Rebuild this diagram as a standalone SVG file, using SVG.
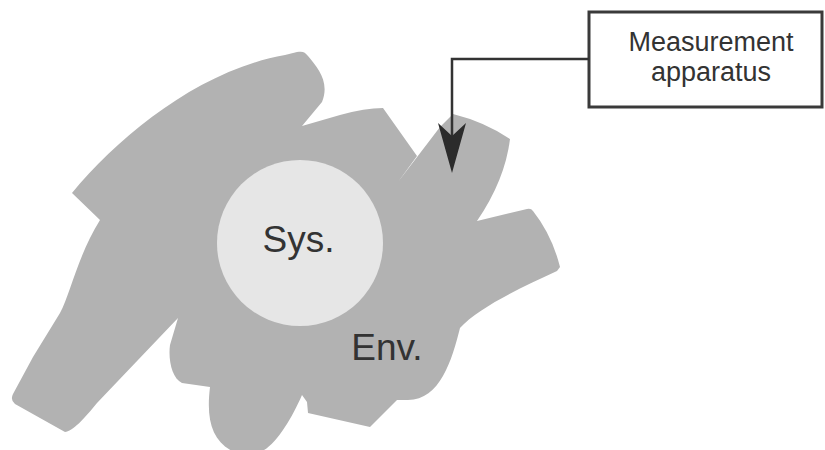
<svg xmlns="http://www.w3.org/2000/svg" width="825" height="450" viewBox="0 0 825 450">
<style>
.env{fill:#b2b2b2;}
.sys{fill:#e6e6e6;}
.lbl{font-family:"Liberation Sans",Arial,sans-serif;fill:#333333;text-anchor:middle;}
.box{fill:#ffffff;stroke:#3a3a3a;stroke-width:3;}
.conn{fill:none;stroke:#333333;stroke-width:2.5;}
</style>
<defs>
<marker id="dart" viewBox="0 0 50 30" refX="37" refY="15" markerWidth="50" markerHeight="30" markerUnits="userSpaceOnUse" orient="auto">
<path d="M0 1 L50 15 L0 29 L13 15 Z" fill="#2b2b2b"/>
</marker>
</defs>
<rect width="825" height="450" fill="#ffffff"/>
<g id="env">
<path class="env" d="M72 193 C120 135 200 70 285 55 L297 52 C303 51 305 52 308 56 C318 68 330 82 322 102 L302 126 L340 115 Q365 108 383 108 L417 156 L398 182 L440 127 L453 114 Q485 122 510 139 Q505 180 477 221 L527 209 Q531 208 533 211 Q552 235 560 267 L557 271 C520 288 478 308 460 328 C452 360 440 400 408 400 L397 400 L370 427 L308 413 L307 402 L302 395 C292 418 276 445 262 451 L232 451 C212 440 206 420 210 387 L182 383 C172 378 168 360 170 345 L178 318 L97 403 C85 418 72 432 65 432 L15 404 Q10 400 13 394 L33 357 L60 313 C70 295 78 255 100 220 Z"/>
<text class="lbl" x="387" y="360" font-size="37">Env.</text>
</g>
<g id="sys">
<circle class="sys" cx="300" cy="243" r="83"/>
<text class="lbl" x="298.5" y="252" font-size="37">Sys.</text>
</g>
<g id="apparatus">
<rect class="box" x="589" y="12" width="233" height="95"/>
<text class="lbl" x="711" y="51" font-size="27">Measurement</text>
<text class="lbl" x="711" y="81" font-size="27">apparatus</text>
</g>
<g id="connectors">
<path class="conn" d="M589 59 L452 59 L452 160" marker-end="url(#dart)"/>
</g>
</svg>
